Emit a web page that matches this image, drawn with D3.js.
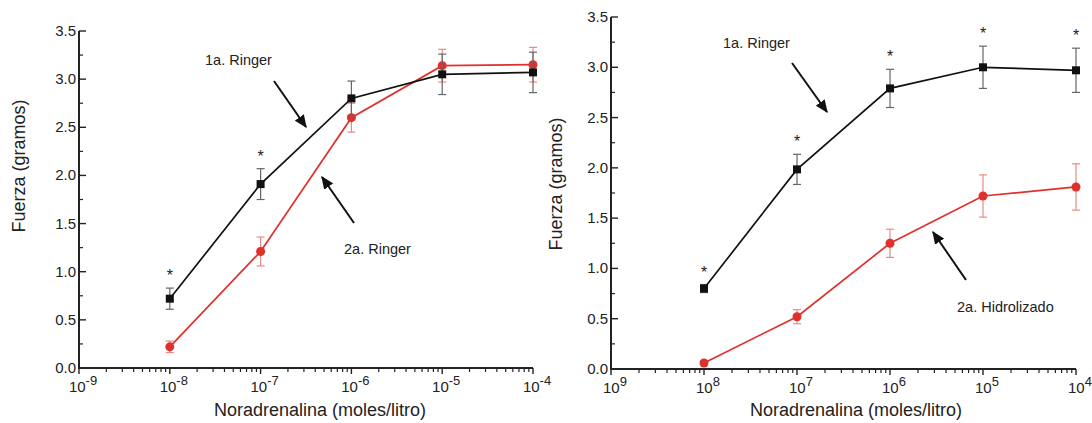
<!DOCTYPE html>
<html>
<head>
<meta charset="utf-8">
<script src="https://cdn.jsdelivr.net/npm/d3@7"></script>
<style>
  body { margin: 0; background: #fff; }
  svg text { font-family: "Liberation Sans", Arial, sans-serif; fill: #222; }
</style>
</head>
<body>
<div id="chart"></div>
<script>
// Data
const conc = [1e-8, 1e-7, 1e-6, 1e-5, 1e-4];

const leftRinger1 = [0.72, 1.91, 2.80, 3.05, 3.07];
const leftRinger1Err = [0.11, 0.16, 0.18, 0.21, 0.21];
const leftRinger2 = [0.22, 1.21, 2.60, 3.14, 3.15];
const leftRinger2Err = [0.06, 0.15, 0.15, 0.17, 0.18];
const leftStars = [true, true, false, false, false];
const leftExpLabels = ["-9", "-8", "-7", "-6", "-5", "-4"];

const rightRinger1 = [0.80, 1.985, 2.79, 3.00, 2.97];
const rightRinger1Err = [0.04, 0.15, 0.19, 0.21, 0.22];
const rightHidro = [0.06, 0.52, 1.25, 1.72, 1.81];
const rightHidroErr = [0.02, 0.07, 0.14, 0.21, 0.23];
const rightStars = [true, true, true, true, true];
const rightExpLabels = ["9", "8", "7", "6", "5", "4"];

const yTicks = [0, 0.5, 1.0, 1.5, 2.0, 2.5, 3.0, 3.5];
const decades = [1e-9, 1e-8, 1e-7, 1e-6, 1e-5, 1e-4];

const black = "#111", red = "#e0302c";

const svg = d3.select("#chart")
    .append("svg")
    .attr("width", 1092)
    .attr("height", 423);

svg.append("defs").append("marker")
    .attr("id", "arrow")
    .attr("viewBox", "0 0 10 10")
    .attr("refX", 9).attr("refY", 5)
    .attr("markerWidth", 13).attr("markerHeight", 11)
    .attr("markerUnits", "userSpaceOnUse")
    .attr("orient", "auto")
    .attr("preserveAspectRatio", "none")
    .append("path")
    .attr("d", "M0,0 L10,5 L0,10 Z")
    .attr("fill", "#111");

function drawPanel(p) {
    const x = d3.scaleLog().domain([1e-9, 1e-4]).range([p.x0, p.x1]);
    const y = d3.scaleLinear().domain([0, 3.5]).range([p.y0, p.y1]);
    const g = svg.append("g");

    // minor x ticks (outward)
    const minor = [];
    decades.slice(0, -1).forEach(d => { for (let k = 2; k <= 9; k++) minor.push(d * k); });
    g.selectAll(".xminor").data(minor).enter().append("line")
        .attr("x1", d => x(d)).attr("x2", d => x(d))
        .attr("y1", p.y0).attr("y2", p.y0 + 4)
        .attr("stroke", "#222").attr("stroke-width", 1.2);
    g.selectAll(".xmajor").data(decades).enter().append("line")
        .attr("x1", d => x(d)).attr("x2", d => x(d))
        .attr("y1", p.y0).attr("y2", p.y0 + 6)
        .attr("stroke", "#222").attr("stroke-width", 1.4);

    // y ticks (inward)
    const yMinor = d3.range(0.25, 3.5, 0.5);
    g.selectAll(".yminor").data(yMinor).enter().append("line")
        .attr("x1", p.x0).attr("x2", p.x0 + 4)
        .attr("y1", d => y(d)).attr("y2", d => y(d))
        .attr("stroke", "#222").attr("stroke-width", 1.2);
    g.selectAll(".ymajor").data(yTicks).enter().append("line")
        .attr("x1", p.x0).attr("x2", p.x0 + 7)
        .attr("y1", d => y(d)).attr("y2", d => y(d))
        .attr("stroke", "#222").attr("stroke-width", 1.4);

    // axis lines
    g.append("path")
        .attr("d", `M${p.x0},${p.y1} V${p.y0} H${p.x1}`)
        .attr("fill", "none").attr("stroke", "#222").attr("stroke-width", 2);

    // y tick labels
    g.selectAll(".ylab").data(yTicks).enter().append("text")
        .attr("x", p.x0 - 3).attr("y", d => y(d) + 5)
        .attr("text-anchor", "end")
        .style("font-size", "15px")
        .text(d => d.toFixed(1));

    // x tick labels: 10 with superscript
    const xl = g.selectAll(".xlab").data(decades).enter().append("text")
        .attr("x", d => x(d) + 4).attr("y", p.y0 + 24)
        .attr("text-anchor", "middle")
        .style("font-size", "15px");
    xl.append("tspan").text("10");
    xl.append("tspan").attr("dy", -7).style("font-size", "13px")
        .text((d, i) => p.expLabels[i]);

    // axis titles
    g.append("text")
        .attr("x", p.xTitleX).attr("y", 416)
        .attr("text-anchor", "middle")
        .style("font-size", "18px")
        .text("Noradrenalina (moles/litro)");
    g.append("text")
        .attr("transform", `translate(${p.yTitleX},${p.yTitleY}) rotate(-90)`)
        .attr("text-anchor", "middle")
        .style("font-size", "18px")
        .text("Fuerza (gramos)");

    const line = d3.line().x((d, i) => x(conc[i])).y(d => y(d));

    function series(vals, errs, color, errColor, shape) {
        const pts = vals.map((v, i) => ({ c: conc[i], v: v, e: errs[i] }));
        const eb = g.append("g");
        pts.forEach(d => {
            eb.append("line")
                .attr("x1", x(d.c)).attr("x2", x(d.c))
                .attr("y1", y(d.v - d.e)).attr("y2", y(d.v + d.e))
                .attr("stroke", errColor).attr("stroke-width", 1.2);
            [d.v - d.e, d.v + d.e].forEach(t => {
                eb.append("line")
                    .attr("x1", x(d.c) - 4).attr("x2", x(d.c) + 4)
                    .attr("y1", y(t)).attr("y2", y(t))
                    .attr("stroke", errColor).attr("stroke-width", 1.2);
            });
        });
        g.append("path").datum(vals)
            .attr("d", line)
            .attr("fill", "none").attr("stroke", color).attr("stroke-width", 1.7);
        if (shape === "square") {
            g.selectAll(null).data(pts).enter().append("rect")
                .attr("x", d => x(d.c) - 4).attr("y", d => y(d.v) - 4)
                .attr("width", 8).attr("height", 8)
                .attr("fill", color);
        } else {
            g.selectAll(null).data(pts).enter().append("circle")
                .attr("cx", d => x(d.c)).attr("cy", d => y(d.v))
                .attr("r", 4.5).attr("fill", color);
        }
        return pts;
    }

    // red series drawn first so black stays readable where they cross
    series(p.s2, p.s2Err, red, "#e88a86", "circle");
    const blackPts = series(p.s1, p.s1Err, black, "#666", "square");

    g.selectAll(".star").data(blackPts.filter((d, i) => p.stars[i])).enter().append("text")
        .attr("x", d => x(d.c)).attr("y", d => y(d.v + d.e) - 7)
        .attr("text-anchor", "middle")
        .style("font-size", "16px")
        .text("*");

    // annotations
    p.notes.forEach(n => {
        g.append("text")
            .attr("x", n.tx).attr("y", n.ty)
            .style("font-size", "14.5px")
            .text(n.label);
        g.append("line")
            .attr("x1", n.ax).attr("y1", n.ay).attr("x2", n.bx).attr("y2", n.by)
            .attr("stroke", "#111").attr("stroke-width", 2)
            .attr("marker-end", "url(#arrow)");
    });
}

drawPanel({
    x0: 79, x1: 533, y0: 368, y1: 31,
    s1: leftRinger1, s1Err: leftRinger1Err,
    s2: leftRinger2, s2Err: leftRinger2Err,
    stars: leftStars, expLabels: leftExpLabels,
    xTitleX: 320, yTitleX: 25, yTitleY: 166,
    notes: [
        { label: "1a. Ringer", tx: 205, ty: 65, ax: 274, ay: 81, bx: 306, by: 127 },
        { label: "2a. Ringer", tx: 344, ty: 254, ax: 354, ay: 223, bx: 322, by: 177 }
    ]
});

drawPanel({
    x0: 611, x1: 1076, y0: 369, y1: 17,
    s1: rightRinger1, s1Err: rightRinger1Err,
    s2: rightHidro, s2Err: rightHidroErr,
    stars: rightStars, expLabels: rightExpLabels,
    xTitleX: 856, yTitleX: 562, yTitleY: 184,
    notes: [
        { label: "1a. Ringer", tx: 723, ty: 48, ax: 792, ay: 63, bx: 827, by: 112 },
        { label: "2a. Hidrolizado", tx: 957, ty: 312, ax: 966, ay: 280, bx: 933, by: 232 }
    ]
});
</script>
</body>
</html>
